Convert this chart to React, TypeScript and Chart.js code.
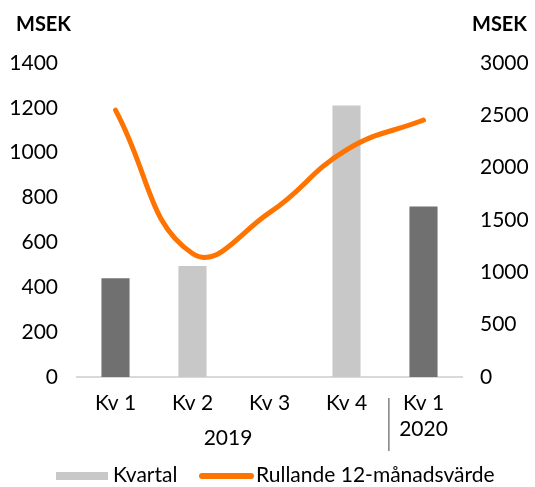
import React, { useEffect, useRef } from "react";
import { Chart, registerables } from "chart.js";

Chart.register(...registerables);

const categories: (string | string[])[] = ["Kv 1", "Kv 2", "Kv 3", "Kv 4", ["Kv 1", "2020"]];
const groupLabel2019 = "2019";
const kvartal = [440, 495, 0, 1210, 760];
const rullande = [2550, 1180, 1570, 2170, 2455];
const barColors = ["#707070", "#c8c8c8", "#c8c8c8", "#c8c8c8", "#707070"];
const leftTicksMax = 1400;
const rightTicksMax = 3000;
const unitLabel = "MSEK";
const legendBar = "Kvartal";
const legendLine = "Rullande 12-månadsvärde";

const FONT = "Lato, 'Open Sans', sans-serif";
const SIZE = 21;
const ORANGE = "#ff7300";

const extrasPlugin = {
  id: "extras",
  afterDraw(chart: any) {
    const ctx = chart.ctx;
    const x = chart.scales.x;
    ctx.save();
    ctx.fillStyle = "#000";
    ctx.font = `bold 20px ${FONT}`;
    ctx.textBaseline = "alphabetic";
    ctx.textAlign = "left";
    ctx.fillText(unitLabel, 16, 31);
    ctx.fillText(unitLabel, 472, 31);
    ctx.font = `${SIZE}px ${FONT}`;
    ctx.textAlign = "center";
    const mid = (x.getPixelForValue(0) + x.getPixelForValue(3)) / 2;
    ctx.fillText(groupLabel2019, mid - 3, 445);
    const sx = x.getPixelForValue(3.55);
    ctx.strokeStyle = "#808080";
    ctx.lineWidth = 1.5;
    ctx.beginPath();
    ctx.moveTo(sx, 398);
    ctx.lineTo(sx, 451);
    ctx.stroke();
    ctx.fillStyle = "#c8c8c8";
    ctx.fillRect(56, 472, 52, 8);
    ctx.fillStyle = "#000";
    ctx.textAlign = "left";
    ctx.fillText(legendBar, 113, 482);
    ctx.strokeStyle = ORANGE;
    ctx.lineWidth = 6;
    ctx.lineCap = "round";
    ctx.beginPath();
    ctx.moveTo(202, 476);
    ctx.lineTo(251, 476);
    ctx.stroke();
    ctx.fillText(legendLine, 256, 482);
    ctx.restore();
  },
};

export default function App() {
  const ref = useRef<HTMLCanvasElement>(null);
  useEffect(() => {
    document.body.style.margin = "0";
    const chart = new Chart(ref.current!, {
      type: "bar",
      data: {
        labels: categories,
        datasets: [
          {
            type: "line",
            label: legendLine,
            data: rullande,
            yAxisID: "y1",
            borderColor: ORANGE,
            backgroundColor: ORANGE,
            borderWidth: 5,
            pointRadius: 0,
            tension: 0.45,
            borderCapStyle: "round",
            order: 0,
          } as any,
          {
            type: "bar",
            label: legendBar,
            data: kvartal,
            yAxisID: "y",
            backgroundColor: barColors,
            barPercentage: 1,
            categoryPercentage: 0.365,
            order: 1,
          },
        ],
      },
      options: {
        responsive: false,
        animation: false,
        layout: { padding: { top: 63, left: 0, right: 0, bottom: 0 } },
        plugins: { legend: { display: false }, tooltip: { enabled: false } },
        scales: {
          x: {
            grid: { display: false, drawTicks: false },
            border: { display: true, color: "#d9d9d9", width: 2 },
            ticks: { color: "#000", font: { family: FONT, size: SIZE, lineHeight: 1.25 }, padding: 13, maxRotation: 0 },
            afterFit: (s: any) => { s.height = 110; },
          },
          y: {
            position: "left",
            min: 0,
            max: leftTicksMax,
            grid: { display: false, drawTicks: false },
            border: { display: false },
            ticks: { stepSize: 200, color: "#000", font: { family: FONT, size: SIZE }, padding: 19, callback: (v: any) => String(v) },
            afterFit: (s: any) => { s.width = 77; },
          },
          y1: {
            position: "right",
            min: 0,
            max: rightTicksMax,
            grid: { display: false, drawTicks: false },
            border: { display: false },
            ticks: { stepSize: 500, color: "#000", font: { family: FONT, size: SIZE }, padding: 18, callback: (v: any) => String(v) },
            afterFit: (s: any) => { s.width = 73; },
          },
        },
      },
      plugins: [extrasPlugin],
    });
    return () => chart.destroy();
  }, []);
  return (
    <div style={{ position: "absolute", left: 0, top: 0, width: 535, height: 487 }}>
      <canvas ref={ref} width={535} height={487} />
    </div>
  );
}
